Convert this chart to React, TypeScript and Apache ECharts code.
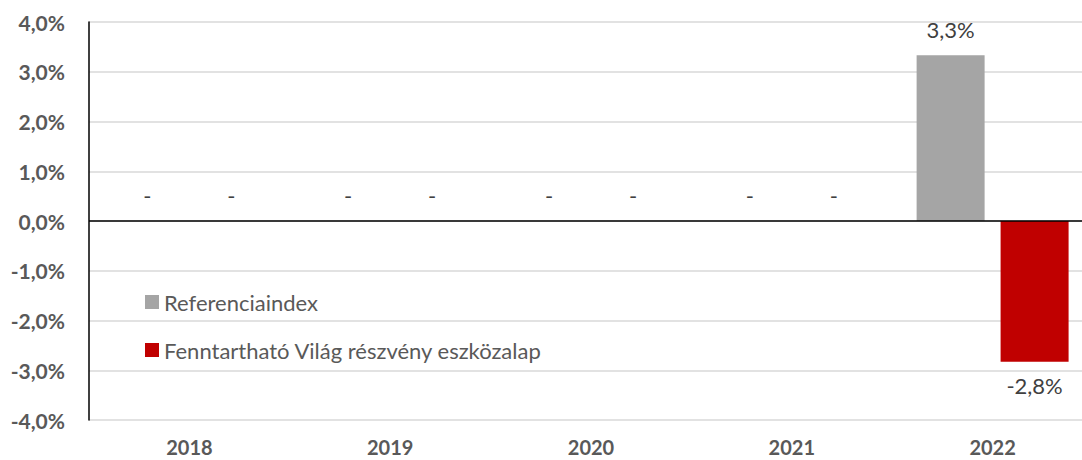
import React, { useEffect, useRef } from "react";
import * as echarts from "echarts";

const categories = ["2018", "2019", "2020", "2021", "2022"];
const referenciaindex = [0, 0, 0, 0, 3.33];
const eszkozalap = [0, 0, 0, 0, -2.83];
const seriesNames = ["Referenciaindex", "Fenntartható Világ részvény eszközalap"];
const yMin = -4;
const yMax = 4;
const yInterval = 1;

const FONT = "Lato, 'Open Sans', sans-serif";

const fmt = (v: number) => (v === 0 ? "-" : v.toFixed(1).replace(".", ",") + "%");

function makeData(values: number[]) {
  return values.map((v) => ({
    value: v,
    label: {
      position: v < 0 ? "bottom" : "top",
      distance: v < 0 ? 13 : 15,
    },
  }));
}

export default function App() {
  const ref = useRef<HTMLDivElement>(null);
  useEffect(() => {
    document.body.style.margin = "0";
    if (!ref.current) return;
    const chart = echarts.init(ref.current, null, { renderer: "svg" });
    const labelStyle = {
      show: true,
      fontFamily: FONT,
      fontSize: 22,
      color: "#404040",
      formatter: (p: any) => fmt(p.value),
    };
    chart.setOption({
      animation: false,
      backgroundColor: "#ffffff",
      grid: {
        left: 89,
        top: 22,
        height: 398,
        width: 1004,
        containLabel: false,
        outerBoundsMode: "none",
      },
      legend: {
        orient: "vertical",
        left: 140,
        top: 286,
        itemWidth: 14,
        itemHeight: 14,
        itemGap: 26,
        icon: "rect",
        selectedMode: false,
        textStyle: { fontFamily: FONT, fontSize: 22, color: "#595959", lineHeight: 22 },
        data: seriesNames,
      },
      xAxis: {
        type: "category",
        data: categories,
        axisLine: { show: false, onZero: false },
        axisTick: { show: false },
        axisLabel: {
          fontFamily: FONT,
          fontSize: 20,
          fontWeight: "bold",
          color: "#595959",
          margin: 17,
          lineHeight: 20,
        },
      },
      yAxis: {
        type: "value",
        min: yMin,
        max: yMax,
        interval: yInterval,
        axisLine: { show: true, lineStyle: { color: "#000000", width: 1.5 } },
        axisTick: { show: false },
        splitLine: { lineStyle: { color: "#d9d9d9", width: 1.5 } },
        axisLabel: {
          fontFamily: FONT,
          fontSize: 21,
          fontWeight: "bold",
          color: "#595959",
          margin: 24,
          formatter: (v: number) => v.toFixed(1).replace(".", ",") + "%",
        },
      },
      series: [
        {
          name: seriesNames[0],
          type: "bar",
          data: makeData(referenciaindex),
          itemStyle: { color: "#A5A5A5" },
          barWidth: 68,
          barGap: "23.5%",
          label: labelStyle,
          markLine: {
            silent: true,
            symbol: "none",
            label: { show: false },
            lineStyle: { color: "#000000", width: 1.5, type: "solid" },
            data: [{ yAxis: 0 }],
          },
        },
        {
          name: seriesNames[1],
          type: "bar",
          data: makeData(eszkozalap),
          itemStyle: { color: "#C00000" },
          barWidth: 68,
          barGap: "23.5%",
          label: labelStyle,
        },
      ],
    });
    return () => chart.dispose();
  }, []);
  return <div ref={ref} style={{ width: 1082, height: 460 }} />;
}
